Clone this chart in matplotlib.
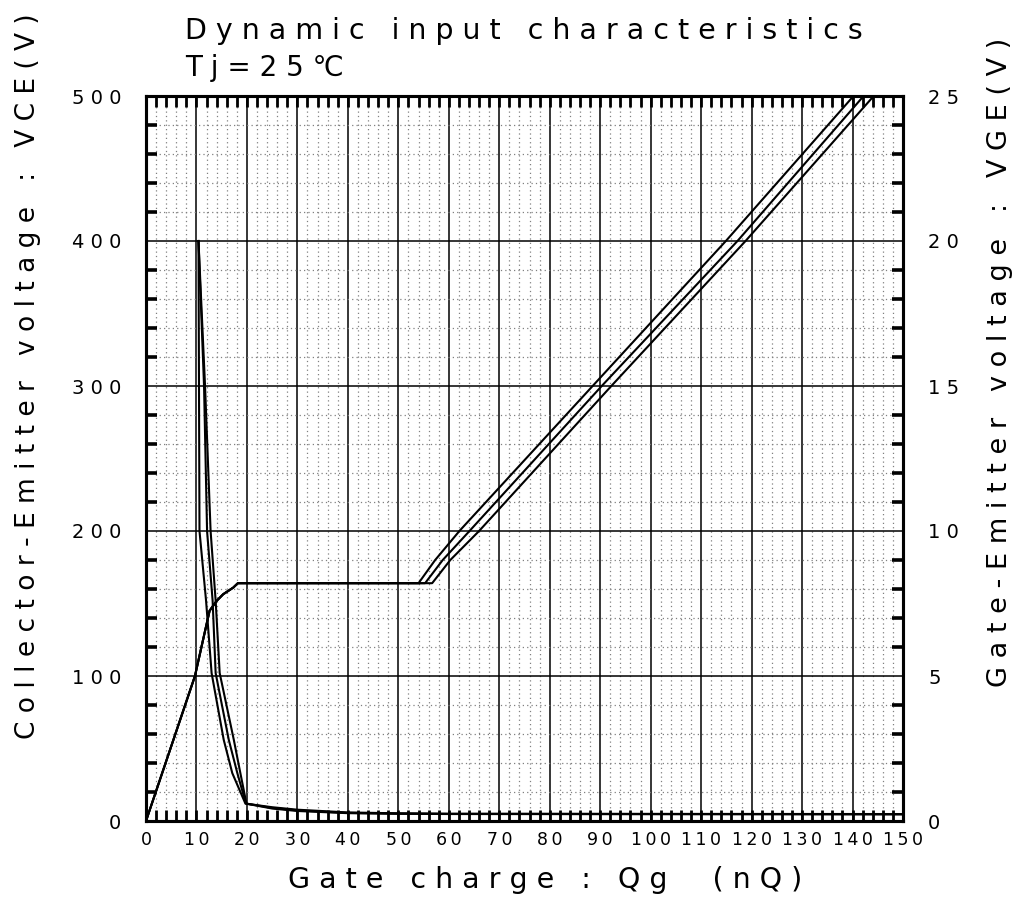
"""
IGBT dynamic input characteristics (gate charge curve), datasheet style.
Left axis: collector-emitter voltage, right axis: gate-emitter voltage.
"""

import numpy as np
import matplotlib
matplotlib.use("Agg")  # no gui
import matplotlib.pyplot as plt
from matplotlib.ticker import MultipleLocator, FixedLocator

plt.rcParams["font.family"] = ["DejaVu Sans", "Noto Sans CJK JP"]

# DATA (gate charge in nC)
# VGE : initial rise up to the Miller plateau
vge_qg = [0, 9.7, 12.6, 14.0, 15.3, 17.3, 18.2]
vge_v  = [0, 5.0, 7.25, 7.59, 7.82, 8.05, 8.2]

# VGE : rise after the plateau, three bias conditions
rise_v  = [8.2, 9.0, 10.0, 15.0, 20.0, 25.0]
rise_qg_a = [54.0, 57.3, 62.1, 88.5, 114.9, 140.2]
rise_qg_b = [55.3, 58.8, 64.1, 90.3, 117.2, 142.2]
rise_qg_c = [56.7, 60.3, 66.0, 92.2, 118.8, 144.2]

# VCE : fall from 400 V, three bias conditions
vce_v    = [400, 300, 200, 152, 102, 56, 33, 12]
vce_qg_a = [10.4, 10.5, 10.6, 11.9, 13.0, 15.4, 17.1, 19.7]
vce_qg_b = [10.4, 11.5, 12.1, 13.2, 13.8, 16.4, 18.1, 19.8]
vce_qg_c = [10.4, 11.7, 12.8, 13.8, 14.6, 17.4, 18.7, 19.9]

# VCE : tail after turn-on
tail_qg  = [25, 30, 40, 50, 60, 150]
tail_v_a = [9.5, 7.8, 5.9, 5.3, 5.0, 4.8]
tail_v_b = [8.6, 6.9, 5.4, 5.0, 4.8, 4.6]
tail_v_c = [9.0, 7.3, 5.6, 5.1, 4.9, 4.7]

X_TICKS  = list(range(0, 151, 10))
Y_TICKS  = list(range(0, 501, 100))
Y2_TICKS = list(range(0, 26, 5))


def spaced(s, sep=" "):
    return sep.join(list(s))


fig = plt.figure(figsize=(10.23, 8.97), dpi=100)
ax = fig.add_axes([146 / 1023, 1 - 821 / 897, 757 / 1023, 725 / 897])
ax2 = ax.twinx()

ax.set_xlim(0, 150)
ax.set_ylim(0, 500)
ax2.set_ylim(0, 25)

# grid: solid major, dotted minor
ax.xaxis.set_major_locator(FixedLocator(X_TICKS))
ax.xaxis.set_minor_locator(MultipleLocator(2))
ax.yaxis.set_major_locator(FixedLocator(Y_TICKS))
ax.yaxis.set_minor_locator(MultipleLocator(20))
ax2.yaxis.set_major_locator(FixedLocator(Y2_TICKS))
ax2.yaxis.set_minor_locator(MultipleLocator(1))

ax.grid(True, which="major", color="black", linewidth=1.1)
ax.grid(True, which="minor", color="#808080", linewidth=0.9, linestyle=(0, (1, 2.5)))
ax.set_axisbelow(True)

tick_kw = dict(direction="in", color="black")
ax.tick_params(axis="x", which="both", top=True, bottom=True, length=8, width=2.0, **tick_kw)
ax.tick_params(axis="y", which="both", left=True, right=False, length=8, width=2.6, **tick_kw)
ax2.tick_params(axis="y", which="both", left=False, right=True, length=8, width=2.6, **tick_kw)
ax.tick_params(axis="y", which="major", length=0)
ax2.tick_params(axis="y", which="major", length=0)
ax.tick_params(axis="x", which="major", pad=7)
ax.tick_params(axis="y", which="major", pad=18)
ax2.tick_params(axis="y", which="major", pad=18)

ax.set_xticklabels([spaced(str(v), "\u2009") for v in X_TICKS], fontsize=12.5)
ax.set_yticklabels([spaced(str(v)) for v in Y_TICKS], fontsize=14)
ax2.set_yticklabels([spaced(str(v)) for v in Y2_TICKS], fontsize=14)

for a in (ax, ax2):
    for sp in a.spines.values():
        sp.set_linewidth(2.2)

# VCE curves
line_kw = dict(color="black", linewidth=1.5, solid_joinstyle="round")
for qg, tail in [(vce_qg_a, tail_v_a), (vce_qg_b, tail_v_b), (vce_qg_c, tail_v_c)]:
    ax.plot(np.r_[qg, tail_qg], np.r_[vce_v, tail], **line_kw)

# VGE curves
for rise in (rise_qg_a, rise_qg_b, rise_qg_c):
    ax2.plot(np.r_[vge_qg, rise], np.r_[vge_v, rise_v], **line_kw)

# texts
fig.text(185 / 1023, 1 - 31 / 897, spaced("Dynamic") + "   " + spaced("input") + "   "
         + spaced("characteristics"), fontsize=20.5, va="center", ha="left")
fig.text(185 / 1023, 1 - 68 / 897, "T j = 2 5 \u2103", fontsize=20, va="center", ha="left")

fig.text(545 / 1023, 1 - 880 / 897,
         spaced("Gate") + "   " + spaced("charge") + "   :   " + spaced("Qg") + "     ( n Q )",
         fontsize=20.5, ha="center", va="center")
fig.text(28 / 1023, 1 - 376 / 897,
         "C o l l e c t o r - E m i t t e r   v o l t a g e   :   V C E ( V )",
         fontsize=19, rotation=90, ha="center", va="center")
fig.text(1000 / 1023, 1 - 362 / 897,
         "G a t e - E m i t t e r   v o l t a g e   :   V G E ( V )",
         fontsize=19.5, rotation=90, ha="center", va="center")

fig.savefig("out.png", dpi=100)
